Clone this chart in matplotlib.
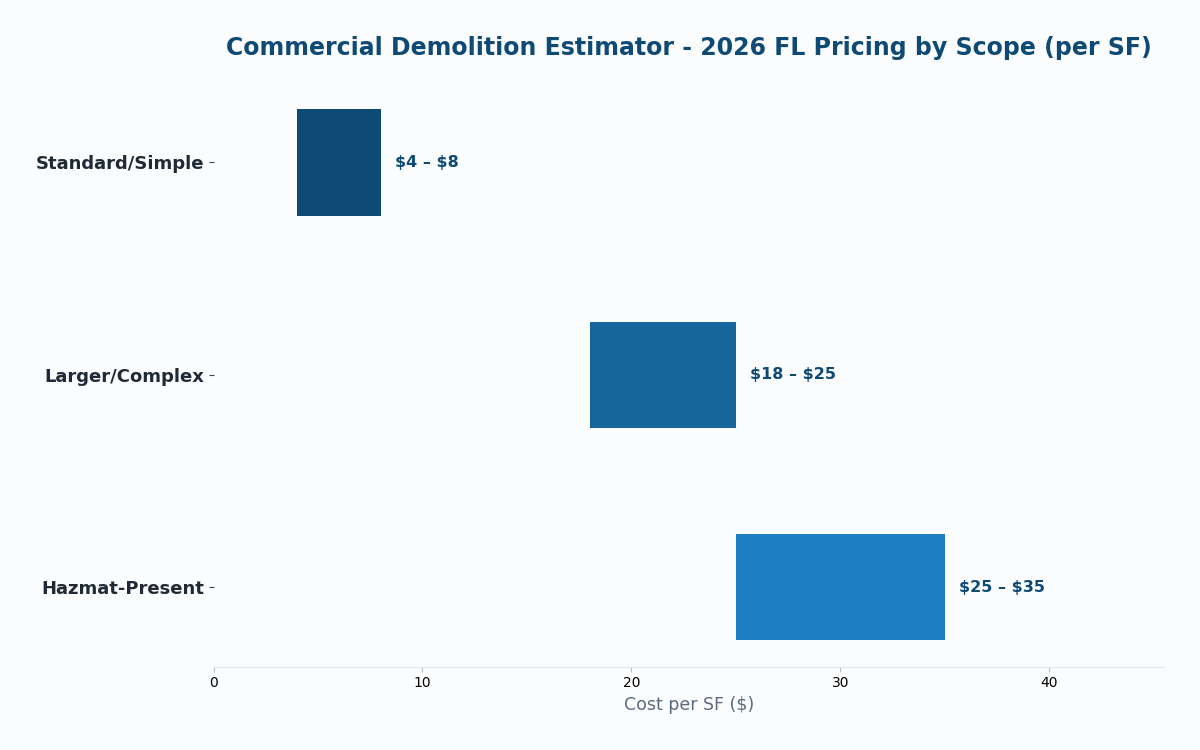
import matplotlib.pyplot as plt

# scope categories and price range per SF
scopes = ['Standard/Simple', 'Larger/Complex', 'Hazmat-Present']
low = [4, 18, 25]
high = [8, 25, 35]
labels = ['$4 – $8', '$18 – $25', '$25 – $35']
colors = ['#0f4a75', '#16659c', '#1e7fc2']

bg = '#fbfcfe'
fig = plt.figure(figsize=(12, 7.5), dpi=100, facecolor=bg)
ax = fig.add_axes([0.178, 0.111, 0.792, 0.7785], facecolor=bg)

widths = [h - l for l, h in zip(low, high)]
ax.barh(scopes, widths, left=low, height=0.5, color=colors)
ax.invert_yaxis()

for i in range(len(scopes)):
    ax.text(high[i] + 0.7, i, labels[i], va='center', ha='left',
            fontsize=11.5, fontweight='bold', color='#0f4a75', parse_math=False)

ax.set_xlim(0, max(high) * 1.3)
ax.set_xlabel('Cost per SF ($)', fontsize=12.5, color='#5a6b7d')
ax.set_title('Commercial Demolition Estimator - 2026 FL Pricing by Scope (per SF)',
             fontsize=17, fontweight='bold', color='#0f4a75', pad=20)

for s in ['top', 'right', 'left']:
    ax.spines[s].set_visible(False)
ax.spines['bottom'].set_color('#e3e6ea')
ax.tick_params(axis='x', colors='#bbbbbb', labelcolor='black', labelsize=10)
ax.tick_params(axis='y', colors='#444444', labelcolor='#1f2a36', labelsize=13)
for t in ax.get_yticklabels():
    t.set_fontweight('bold')

fig.savefig('out.png', facecolor=bg)
